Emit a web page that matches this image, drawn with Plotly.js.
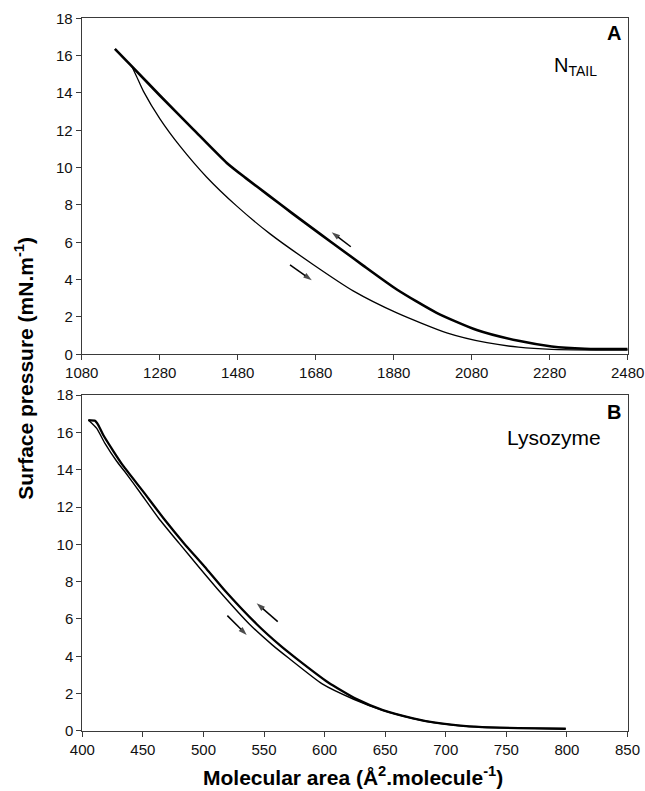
<!DOCTYPE html>
<html>
<head>
<meta charset="utf-8">
<script src="https://cdn.plot.ly/plotly-3.0.1.min.js"></script>
<style>html,body{margin:0;padding:0;background:#fff;}#chart{width:645px;height:791px;}</style>
</head>
<body>
<div id="chart"></div>
<script>
// Panel A (N_TAIL) - compression (thick) and expansion (thin)
const ntailCompX = [1165, 1208, 1281, 1366, 1452, 1500, 1560, 1620, 1691, 1750, 1802, 1888, 1990, 2093, 2200, 2285, 2370, 2480];
const ntailCompY = [16.36, 15.44, 13.85, 12.05, 10.25, 9.45, 8.50, 7.55, 6.45, 5.55, 4.75, 3.47, 2.22, 1.30, 0.72, 0.42, 0.30, 0.28];
const ntailExpX = [1208, 1221, 1238, 1281, 1332, 1400, 1477, 1563, 1674, 1776, 1888, 2016, 2119, 2200, 2285, 2400, 2480];
const ntailExpY = [15.44, 14.87, 14.10, 12.60, 11.15, 9.50, 7.95, 6.45, 4.80, 3.40, 2.22, 1.15, 0.62, 0.38, 0.26, 0.23, 0.23];

// Panel B (Lysozyme)
const lysoCompX = [405, 410.5, 413.2, 417.3, 425.6, 433.8, 450, 467, 484, 501, 518, 544, 563, 576, 603, 626, 648, 673, 690, 710, 730, 760, 799];
const lysoCompY = [16.66, 16.62, 16.39, 15.86, 15.0, 14.2, 12.85, 11.40, 10.05, 8.80, 7.50, 5.72, 4.60, 3.92, 2.60, 1.72, 1.12, 0.68, 0.46, 0.30, 0.21, 0.15, 0.12];
const lysoExpX = [405, 411.9, 418.7, 428.4, 435, 448, 463, 480, 496, 513, 538, 557, 570, 598, 624, 648, 673, 690, 710, 730, 760, 799];
const lysoExpY = [16.66, 16.21, 15.41, 14.45, 13.90, 12.75, 11.40, 10.05, 8.80, 7.50, 5.72, 4.60, 3.92, 2.52, 1.70, 1.11, 0.67, 0.45, 0.29, 0.20, 0.15, 0.12];

// Direction arrows: [tailX, tailY, headX, headY]
const arrowsA = [[1770, 5.76, 1721, 6.54], [1614, 4.79, 1670, 3.97]];
const arrowsB = [[561.3, 5.86, 543.9, 6.84], [519.7, 6.18, 535.7, 5.14]];

// Tick labels
const xTicksA = [1080, 1280, 1480, 1680, 1880, 2080, 2280, 2480];
const xTicksB = [400, 450, 500, 550, 600, 650, 700, 750, 800, 850];
const yTicks = [0, 2, 4, 6, 8, 10, 12, 14, 16, 18];

const FONT = 'Liberation Sans, Arial, Helvetica, sans-serif';
const AX = '#3a3a3a';

const traces = [
  {x: ntailExpX, y: ntailExpY, xaxis: 'x', yaxis: 'y', mode: 'lines', line: {color: '#000', width: 1.3, shape: 'spline', smoothing: 0.6}},
  {x: ntailCompX, y: ntailCompY, xaxis: 'x', yaxis: 'y', mode: 'lines', line: {color: '#000', width: 2.6, shape: 'spline', smoothing: 0.6}},
  {x: lysoExpX, y: lysoExpY, xaxis: 'x2', yaxis: 'y2', mode: 'lines', line: {color: '#000', width: 1.4, shape: 'spline', smoothing: 0.5}},
  {x: lysoCompX, y: lysoCompY, xaxis: 'x2', yaxis: 'y2', mode: 'lines', line: {color: '#000', width: 2.3, shape: 'spline', smoothing: 0.5}}
];

function arrowTrace(a, xa, ya) {
  return {x: [a[0], a[2]], y: [a[1], a[3]], xaxis: xa, yaxis: ya, mode: 'lines+markers',
    line: {color: '#000', width: 1.5},
    marker: {symbol: ['circle', 'arrow'], size: [0, 9], angleref: 'previous', color: '#000', line: {width: 0}}};
}
arrowsA.forEach(a => traces.push(arrowTrace(a, 'x', 'y')));
arrowsB.forEach(a => traces.push(arrowTrace(a, 'x2', 'y2')));

function axisBase() {
  return {
    showline: true, mirror: true, linecolor: AX, linewidth: 1,
    ticks: 'outside', ticklen: 5, tickcolor: AX, tickwidth: 1,
    showgrid: false, zeroline: false, fixedrange: true,
    tickfont: {family: FONT, size: 15, color: '#111'}
  };
}

const layout = {
  width: 645, height: 791,
  margin: {l: 0, r: 0, t: 0, b: 0},
  paper_bgcolor: '#fff', plot_bgcolor: '#fff',
  showlegend: false,
  xaxis: Object.assign(axisBase(), {domain: [0.1267, 0.9732], range: [1080, 2480], tickvals: xTicksA, ticktext: xTicksA.map(String), anchor: 'y'}),
  yaxis: Object.assign(axisBase(), {domain: [0.5521, 0.9769], range: [0, 18], tickvals: yTicks, ticktext: yTicks.map(String), anchor: 'x'}),
  xaxis2: Object.assign(axisBase(), {domain: [0.1276, 0.9729], range: [400, 850], tickvals: xTicksB, ticktext: xTicksB.map(String), anchor: 'y2'}),
  yaxis2: Object.assign(axisBase(), {domain: [0.0759, 0.5006], range: [0, 18], tickvals: yTicks, ticktext: yTicks.map(String), anchor: 'x2'}),
  annotations: [
    {text: '<b>A</b>', xref: 'paper', yref: 'paper', x: 0.952, y: 0.9583, xanchor: 'center', yanchor: 'middle', showarrow: false, font: {family: FONT, size: 20, color: '#000'}},
    {text: 'N<sub>TAIL</sub>', xref: 'paper', yref: 'paper', x: 0.893, y: 0.9160, xanchor: 'center', yanchor: 'middle', showarrow: false, font: {family: FONT, size: 20, color: '#000'}},
    {text: '<b>B</b>', xref: 'paper', yref: 'paper', x: 0.952, y: 0.4795, xanchor: 'center', yanchor: 'middle', showarrow: false, font: {family: FONT, size: 20, color: '#000'}},
    {text: 'Lysozyme', xref: 'paper', yref: 'paper', x: 0.859, y: 0.4475, xanchor: 'center', yanchor: 'middle', showarrow: false, font: {family: FONT, size: 21, color: '#000'}},
    {text: '<b>Surface pressure (mN.m<sup>-1</sup>)</b>', xref: 'paper', yref: 'paper', x: 0.037, y: 0.5348, xanchor: 'center', yanchor: 'middle', textangle: -90, showarrow: false, font: {family: FONT, size: 21, color: '#000'}},
    {text: '<b>Molecular area (Å<sup>2</sup>.molecule<sup>-1</sup>)</b>', xref: 'paper', yref: 'paper', x: 0.547, y: 0.0, xanchor: 'center', yanchor: 'bottom', showarrow: false, font: {family: FONT, size: 21, color: '#000'}}
  ]
};

Plotly.newPlot('chart', traces, layout, {displayModeBar: false, staticPlot: true});
</script>
</body>
</html>
